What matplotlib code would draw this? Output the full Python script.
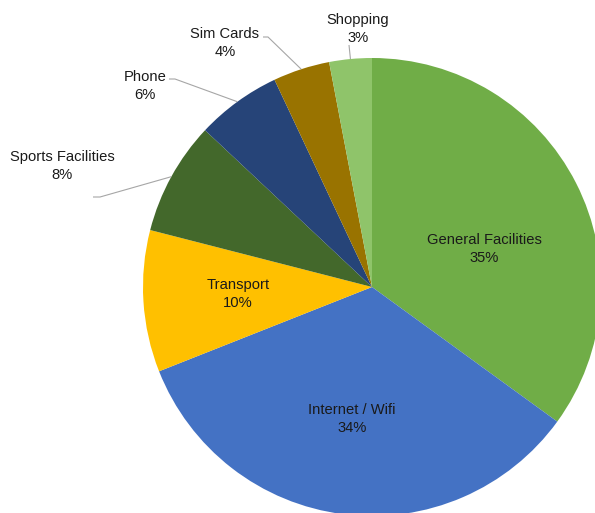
import matplotlib.pyplot as plt
import numpy as np

# data
categories = ['General Facilities', 'Internet / Wifi', 'Transport', 'Sports Facilities',
              'Phone', 'Sim Cards', 'Shopping']
shares = [35, 34, 10, 8, 6, 4, 3]
colors = ['#70AD47', '#4472C4', '#FFC000', '#43682B', '#264478', '#997300', '#8FC46A']

# layout (pixel coords, y down)
W, H = 595, 513
cx, cy, R = 372, 287, 229
label_pos = [(484, 249), (352, 419), (238, 294), (62, 166), (145, 86), (225, 43), (358, 29)]
# leader line start points for outside labels (None = inside label)
leader_start = [None, None, None, [(93, 197), (100, 197)], [(169, 79), (175, 79)],
                [(263, 37), (268, 37)], [(349, 45)]]

plt.rcParams['font.family'] = ['Liberation Sans', 'DejaVu Sans']

fig = plt.figure(figsize=(W / 100, H / 100), dpi=100)
ax = fig.add_axes([0, 0, 1, 1])

# y axis inverted, so counterclock in data space is clockwise on screen
wedges, _ = ax.pie(shares, colors=colors, center=(cx, cy), radius=R,
                   startangle=-90, counterclock=True, frame=True,
                   wedgeprops=dict(linewidth=0))
ax.set_xlim(0, W)
ax.set_ylim(H, 0)
ax.set_aspect('equal')
ax.axis('off')

for i, w in enumerate(wedges):
    tx, ty = label_pos[i]
    ax.text(tx, ty, f'{categories[i]}\n{shares[i]}%', ha='center', va='center',
            fontsize=10.6, color='#1a1a1a', linespacing=1.42)
    if leader_start[i] is not None:
        mid = np.deg2rad((w.theta1 + w.theta2) / 2)
        ex, ey = cx + R * np.cos(mid), cy + R * np.sin(mid)
        pts = leader_start[i] + [(ex, ey)]
        xs, ys = zip(*pts)
        ax.plot(xs, ys, color='#A6A6A6', linewidth=0.8, solid_capstyle='butt')

fig.savefig('out.png', dpi=100)
